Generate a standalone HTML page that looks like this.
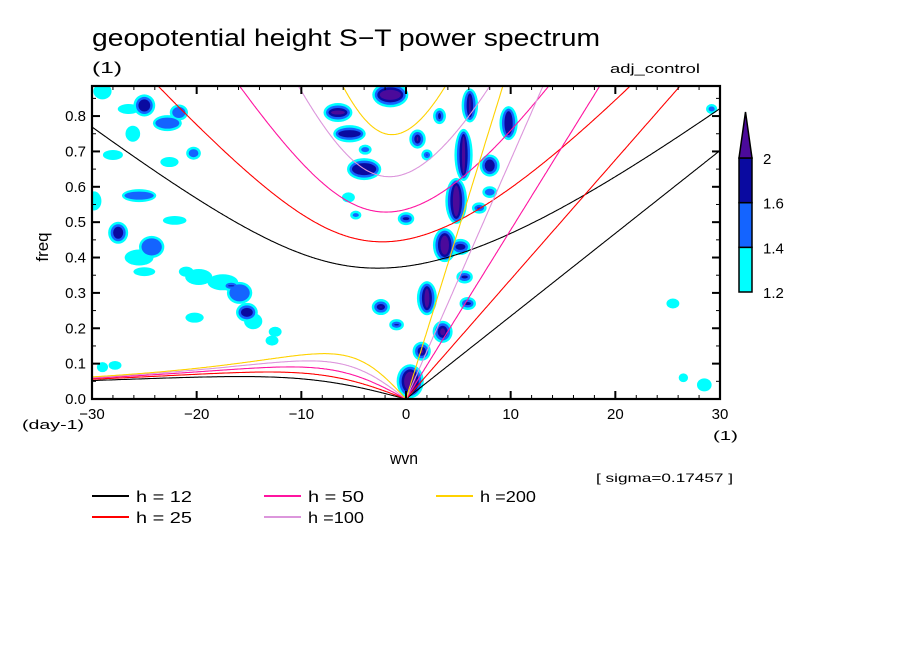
<!DOCTYPE html>
<html><head><meta charset="utf-8"><style>
body{margin:0;background:#fff;}
svg{display:block;font-family:"Liberation Sans",sans-serif;}
</style></head><body>
<svg id="chart" width="904" height="654" viewBox="0 0 904 654">
<defs><clipPath id="clip"><rect x="92" y="86" width="628" height="313"/></clipPath></defs>
<rect width="904" height="654" fill="#fff"/>
<text x="92" y="46" font-size="24" textLength="508" lengthAdjust="spacingAndGlyphs">geopotential height S−T power spectrum</text>
<text x="92" y="73" font-size="16" textLength="30" lengthAdjust="spacingAndGlyphs">(1)</text>
<text x="610" y="73" font-size="13" textLength="90" lengthAdjust="spacingAndGlyphs">adj_control</text>
<g id="blobs" clip-path="url(#clip)"></g>
<g id="curves" clip-path="url(#clip)"></g>
<g id="axes"></g>
<text x="48" y="247" font-size="17" text-anchor="middle" transform="rotate(-90 48 247)">freq</text>
<text x="390" y="464" font-size="17" textLength="28" lengthAdjust="spacingAndGlyphs">wvn</text>
<text x="22" y="429" font-size="13" textLength="62" lengthAdjust="spacingAndGlyphs">(day-1)</text>
<text x="713" y="440" font-size="13" textLength="25" lengthAdjust="spacingAndGlyphs">(1)</text>
<text x="596" y="482" font-size="12" textLength="137" lengthAdjust="spacingAndGlyphs">[ sigma=0.17457 ]</text>
<g id="colorbar"></g>
<g id="legend"></g>
</svg>
<script>
const NS="http://www.w3.org/2000/svg";
const depths=[12,25,50,100,200];
const depthColors=["#000000","#ff0000","#ff14a0","#dc96dc","#ffd200"];
const depthLabels=["h = 12","h = 25","h = 50","h =100","h =200"];
const xTicks=[-30,-20,-10,0,10,20,30];
const yTicks=[0.0,0.1,0.2,0.3,0.4,0.5,0.6,0.7,0.8];
const levelColors=["#00ffff","#1464ff","#0a0aa0","#4b0a9b"];
const levelLabels=["1.2","1.4","1.6","2"];
// blobs: wavenumber, frequency, radius x (wvn), radius y (freq), max level (1..4)
const blobW=[5.5,4.8,3.7,2.0,0.4,1.5,-1.5,-6.5,-5.4,-4.0,-3.9,0.0,1.1,2.0,3.5,6.1,8.0,9.8,5.6,5.9,5.2,7.0,8.0,3.2,25.5,28.5,29.2,26.5,
 -25,-21.7,-22.8,-26.5,-29,-26.1,-20.3,-28,-22.6,-25.5,-29.8,-27.5,-24.3,-25.5,-22.1,-19.8,-17.5,-15.9,-16.7,-15.2,-14.6,-21,-25,-20.2,-12.8,-27.8,-2.4,-0.9,-5.5,-4.8,-29,-12.5];
const blobF=[0.69,0.56,0.435,0.285,0.05,0.135,0.86,0.81,0.75,0.65,0.705,0.51,0.735,0.69,0.19,0.83,0.66,0.78,0.345,0.27,0.43,0.54,0.585,0.80,0.27,0.04,0.82,0.06,
 0.83,0.81,0.78,0.82,0.87,0.75,0.695,0.69,0.67,0.575,0.56,0.47,0.43,0.40,0.505,0.345,0.33,0.30,0.32,0.245,0.22,0.36,0.36,0.23,0.165,0.095,0.26,0.21,0.57,0.52,0.09,0.19];
const blobRx=[0.8,1.0,1.1,0.9,1.3,0.8,1.8,1.4,1.6,1.7,0.5,0.7,0.7,0.4,0.9,0.7,0.9,0.8,0.7,0.7,0.9,0.6,0.6,0.5,0.5,0.6,0.4,0.3,
 1.0,0.8,1.4,1.0,0.8,0.6,0.6,0.9,0.8,1.7,0.6,0.9,1.2,1.4,1.1,1.3,1.5,1.2,0.7,1.0,0.8,0.6,1.0,0.8,0.5,0.5,0.8,0.6,0.5,0.4,0.4,0.5];
const blobRy=[0.08,0.07,0.05,0.05,0.05,0.025,0.035,0.025,0.022,0.03,0.01,0.015,0.025,0.012,0.03,0.05,0.03,0.05,0.015,0.015,0.02,0.012,0.013,0.02,0.01,0.015,0.01,0.008,
 0.03,0.02,0.02,0.01,0.02,0.02,0.015,0.01,0.01,0.015,0.025,0.03,0.03,0.02,0.008,0.02,0.02,0.03,0.012,0.025,0.02,0.01,0.008,0.01,0.01,0.008,0.02,0.012,0.01,0.008,0.01,0.01];
const blobLv=[4,4,4,4,4,4,4,4,3,3,3,4,4,4,4,4,3,3,3,3,3,3,2,3,1,1,2,1,
 3,2,2,1,1,1,2,1,1,2,1,3,2,1,1,1,1,2,3,3,1,1,1,1,1,1,4,4,1,2,1,1];

const X0=92,X1=720,Y0=399,Y1=86,FMAX=0.885;
function sx(w){return X0+(w+30)/60*(X1-X0);}
function sy(f){return Y0-f/FMAX*(Y0-Y1);}
function mk(tag,parent,attrs){const e=document.createElementNS(NS,tag);for(const k in attrs)e.setAttribute(k,attrs[k]);parent.appendChild(e);return e;}

// blobs
const gB=document.getElementById('blobs');
for(let lv=1;lv<=4;lv++){
  const shrink=(lv-1)*2.5;
  for(let i=0;i<blobW.length;i++){
    if(blobLv[i]<lv)continue;
    const rx=0.85*blobRx[i]/60*(X1-X0)+2-shrink, ry=0.85*blobRy[i]/FMAX*(Y0-Y1)+2-shrink;
    if(rx<=0.5||ry<=0.5)continue;
    const e=mk('ellipse',gB,{cx:sx(blobW[i]),cy:sy(blobF[i]),rx:rx,ry:ry,fill:levelColors[lv-1]});
    
    
  }
}

// dispersion curves (Matsuno, n=1 and Kelvin)
const beta=2.289e-11,a=6.371e6,g=9.81,toCpd=86400/(2*Math.PI);
function roots(s,c){
  const k=s/a;const p=-(c*c*k*k+3*beta*c), q=-beta*c*c*k;
  const m=2*Math.sqrt(-p/3);
  let arg=3*q/(2*p)*Math.sqrt(-3/p);arg=Math.max(-1,Math.min(1,arg));
  const th=Math.acos(arg)/3;
  return [0,1,2].map(j=>m*Math.cos(th-2*Math.PI*j/3)).sort((u,v)=>v-u);
}
const gC=document.getElementById('curves');
depths.forEach((h,i)=>{
  const c=Math.sqrt(g*h);let ig=[],ro=[],kv=[];
  for(let s=-30;s<=30.001;s+=0.1){
    const r=roots(s,c);
    ig.push(sx(s).toFixed(1)+','+sy(r[0]*toCpd).toFixed(1));
    if(s<=0.0001) ro.push(sx(s).toFixed(1)+','+sy(Math.max(0,r[1])*toCpd).toFixed(1));
    if(s>=-0.0001) kv.push(sx(s).toFixed(1)+','+sy(c*s/a*toCpd).toFixed(1));
  }
  const names=['ig-curve','rossby-curve','kelvin-curve'];
  [ig,ro,kv].forEach((pts,j)=>{
    const e=mk('polyline',gC,{points:pts.join(' '),fill:'none',stroke:depthColors[i],'stroke-width':1.1});
    
    
  });
});

// axes
const gA=document.getElementById('axes');
mk('rect',gA,{x:X0,y:Y1,width:X1-X0,height:Y0-Y1,fill:'none',stroke:'#000','stroke-width':2.2});
for(let w=-30;w<=30;w+=2){
  const major=w%10===0,L=major?8:4;
  mk('line',gA,{x1:sx(w),x2:sx(w),y1:Y0,y2:Y0-L,stroke:'#000','stroke-width':major?2:1});
  mk('line',gA,{x1:sx(w),x2:sx(w),y1:Y1,y2:Y1+L,stroke:'#000','stroke-width':major?2:1});
}
for(let f=0;f<=0.88;f+=0.05){
  const major=Math.round(f*20)%2===0,L=major?8:4;
  mk('line',gA,{x1:X0,x2:X0+L,y1:sy(f),y2:sy(f),stroke:'#000','stroke-width':major?2:1});
  mk('line',gA,{x1:X1,x2:X1-L,y1:sy(f),y2:sy(f),stroke:'#000','stroke-width':major?2:1});
}
xTicks.forEach(v=>{
  const t=mk('text',gA,{x:sx(v),y:419,'font-size':15,'text-anchor':'middle'});
  t.textContent=(v<0?'−':'')+Math.abs(v);
  
  
});
yTicks.forEach(v=>{
  const t=mk('text',gA,{x:86,y:sy(v)+5,'font-size':15,'text-anchor':'end'});
  t.textContent=v.toFixed(1);
  
  
});

// colorbar
const gK=document.getElementById('colorbar');
const cbX=739,cbW=13,cbTop=158,cbBot=292,seg=(cbBot-cbTop)/3;
for(let i=0;i<3;i++){
  const e=mk('rect',gK,{x:cbX,y:cbBot-(i+1)*seg,width:cbW,height:seg,fill:levelColors[i],stroke:'#000','stroke-width':1.5});
  
  
}
const tri=mk('polygon',gK,{points:`${cbX},${cbTop} ${cbX+cbW},${cbTop} ${cbX+cbW/2},112`,fill:levelColors[3],stroke:'#000','stroke-width':1.5});


levelLabels.forEach((l,i)=>{
  const t=mk('text',gK,{x:763,y:cbBot-i*seg+6,'font-size':15});
  t.textContent=l;
  
  
});

// legend
const gL=document.getElementById('legend');
const lx=[92,92,264,264,436],ly=[496,517,496,517,496];
[0,1,2,3,4].forEach((i,j)=>{
  const e=mk('line',gL,{x1:lx[j],x2:lx[j]+37,y1:ly[j],y2:ly[j],stroke:depthColors[i],'stroke-width':2});
  
  
  const t=mk('text',gL,{x:lx[j]+44,y:ly[j]+6,'font-size':16,textLength:56,lengthAdjust:'spacingAndGlyphs'});
  t.textContent=depthLabels[i];
  
  
});
</script>
</body></html>
